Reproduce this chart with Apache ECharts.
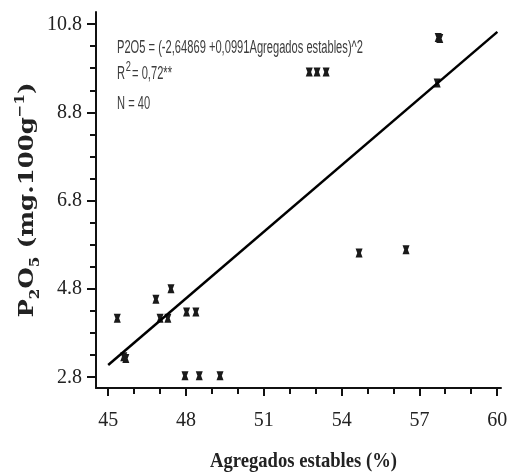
<!DOCTYPE html>
<html>
<head>
<meta charset="utf-8">
<script src="https://cdn.jsdelivr.net/npm/echarts@6/dist/echarts.min.js"></script>
<style>
  html, body { margin: 0; padding: 0; background: #fff; }
  #chart { width: 509px; height: 476px; }
</style>
</head>
<body>
<div id="chart"></div>
<script>
// points
var aggX = [45.35, 45.6, 45.68, 46.84, 47.0, 47.3, 47.42, 48.02, 48.38,
            47.96, 48.51, 49.31, 52.75, 53.05, 53.4, 54.67, 56.48, 57.68, 57.72, 57.78];
var p2o5Y = [4.14, 3.27, 3.23, 4.57, 4.14, 4.14, 4.81, 4.28, 4.28,
             2.84, 2.84, 2.84, 9.72, 9.72, 9.72, 5.62, 5.69, 9.47, 10.5, 10.48];
// fitted line, end points
var fitX = [45, 60];
var fitY = [3.08, 10.63];
// tick values
var xLabels = [45, 48, 51, 54, 57, 60];
var xMinor = [46, 47, 49, 50, 52, 53, 55, 56, 58, 59];
var yLabels = [2.8, 4.8, 6.8, 8.8, 10.8];
var yMinor = [3.3, 3.8, 4.3, 5.3, 5.8, 6.3, 7.3, 7.8, 8.3, 9.3, 9.8, 10.3];

// plot frame runs a bit past the first/last tick
var xMin = 44.53, xMax = 60.14, yMin = 2.56, yMax = 11.08;

var chart = echarts.init(document.getElementById('chart'));

var ctx = document.createElement('canvas').getContext('2d');
var textWidth = function (str, font) {
    ctx.font = font;
    return ctx.measureText(str).width;
};

var zip = function (xs, ys) {
    var out = [];
    for (var i = 0; i < xs.length; i++) out.push([xs[i], ys[i]]);
    return out;
};

// annotation block (narrow, tall font in the original)
var annFont = '"Liberation Sans", Arial, sans-serif';
var annSize = 18;
var annColor = '#3c3c3c';
var eqText = 'P2O5 = (-2,64869 +0,0991Agregados estables)^2';
var annScale = 246 / textWidth(eqText, annSize + 'px ' + annFont);
var wR = textWidth('R', annSize + 'px ' + annFont);
var wSup = textWidth('2', '15px ' + annFont);

// y axis title
var yFont = '"DejaVu Serif", serif';
var yPieces = [['P', 21], ['2', 13], ['O', 21], ['5', 13], [' (mg.100g', 21], ['\u22121', 13], [')', 21]];
var yW = 0;
yPieces.forEach(function (p) { yW += textWidth(p[0], 'bold ' + p[1] + 'px ' + yFont); });
var yScale = 235 / yW;

var xTitle = 'Agregados estables (%)';
var xScale = 187 / textWidth(xTitle, 'bold 22px "Liberation Serif"');

var tickLabel = {fontFamily: '"Liberation Serif", serif', fontSize: 20, color: '#222'};

var option = {
    animation: false,
    grid: {left: 96, right: 8, top: 12, bottom: 88, outerBoundsMode: 'none'},
    xAxis: {
        type: 'value', min: xMin, max: xMax,
        axisLine: {show: true, onZero: false, lineStyle: {color: '#111', width: 2}},
        axisTick: {show: false},
        axisLabel: Object.assign({margin: 23, customValues: xLabels}, tickLabel),
        splitLine: {show: false}
    },
    yAxis: {
        type: 'value', min: yMin, max: yMax,
        axisLine: {show: true, onZero: false, lineStyle: {color: '#111', width: 2}},
        axisTick: {show: false},
        axisLabel: Object.assign({margin: 14, customValues: yLabels,
            formatter: function (v) { return v.toFixed(1); }}, tickLabel),
        splitLine: {show: false}
    },
    series: [{
        type: 'scatter',
        data: zip(aggX, p2o5Y),
        symbol: 'path://M0,0H10L7.6,5L10,10H0L2.4,5Z',
        symbolSize: [7, 9],
        itemStyle: {color: '#1a1a1a', opacity: 1},
        z: 2
    }, {
        type: 'line',
        data: zip(fitX, fitY),
        showSymbol: false,
        lineStyle: {color: '#000', width: 2.5},
        z: 3
    }],
    graphic: [{
        type: 'group', x: 117, y: 0, scaleX: annScale,
        children: [
            {type: 'text', x: 0, y: 48, style: {text: eqText, font: annSize + 'px ' + annFont,
                fill: annColor, verticalAlign: 'middle'}},
            {type: 'text', x: 0, y: 74, style: {text: 'R', font: annSize + 'px ' + annFont,
                fill: annColor, verticalAlign: 'middle'}},
            {type: 'text', x: wR + 1, y: 67, style: {text: '2', font: '15px ' + annFont,
                fill: annColor, verticalAlign: 'middle'}},
            {type: 'text', x: wR + wSup + 3, y: 74, style: {text: '= 0,72**', font: annSize + 'px ' + annFont,
                fill: annColor, verticalAlign: 'middle'}},
            {type: 'text', x: 0, y: 104, style: {text: 'N = 40', font: annSize + 'px ' + annFont,
                fill: annColor, verticalAlign: 'middle'}}
        ]
    }, {
        type: 'text', x: 28, y: 200, rotation: Math.PI / 2, scaleX: yScale,
        style: {
            text: '{b|P}{s|2}{b|O}{s|5}{b| (mg.100g}{u|\u22121}{b|)}',
            align: 'center', verticalAlign: 'middle',
            rich: {
                b: {fontFamily: yFont, fontWeight: 'bold', fontSize: 21, lineHeight: 28, fill: '#222'},
                s: {fontFamily: yFont, fontWeight: 'bold', fontSize: 13, lineHeight: 14, verticalAlign: 'bottom', fill: '#222'},
                u: {fontFamily: yFont, fontWeight: 'bold', fontSize: 13, lineHeight: 14, verticalAlign: 'top', fill: '#222'}
            }
        }
    }, {
        type: 'text', x: 303.5, y: 461, scaleX: xScale,
        style: {text: xTitle, font: 'bold 22px "Liberation Serif", serif', fill: '#222',
            align: 'center', verticalAlign: 'middle'}
    }]
};

chart.setOption(option);

// tick marks: placed through the chart's own scales, drawn on a top layer
var addTicks = function (vals, isX, len) {
    vals.forEach(function (v) {
        var p = chart.convertToPixel({gridIndex: 0}, isX ? [v, yMin] : [xMin, v]);
        var x = Math.round(p[0]), y = Math.round(p[1]);
        option.graphic.push({
            type: 'line', zlevel: 1, silent: true,
            shape: isX ? {x1: x, y1: y, x2: x, y2: y + len} : {x1: x, y1: y, x2: x - len, y2: y},
            style: {stroke: '#111', lineWidth: 2}
        });
    });
};
addTicks(xLabels, true, 8);
addTicks(xMinor, true, 6);
addTicks(yLabels, false, 9);
addTicks(yMinor, false, 6);

chart.setOption(option, true);
</script>
</body>
</html>
